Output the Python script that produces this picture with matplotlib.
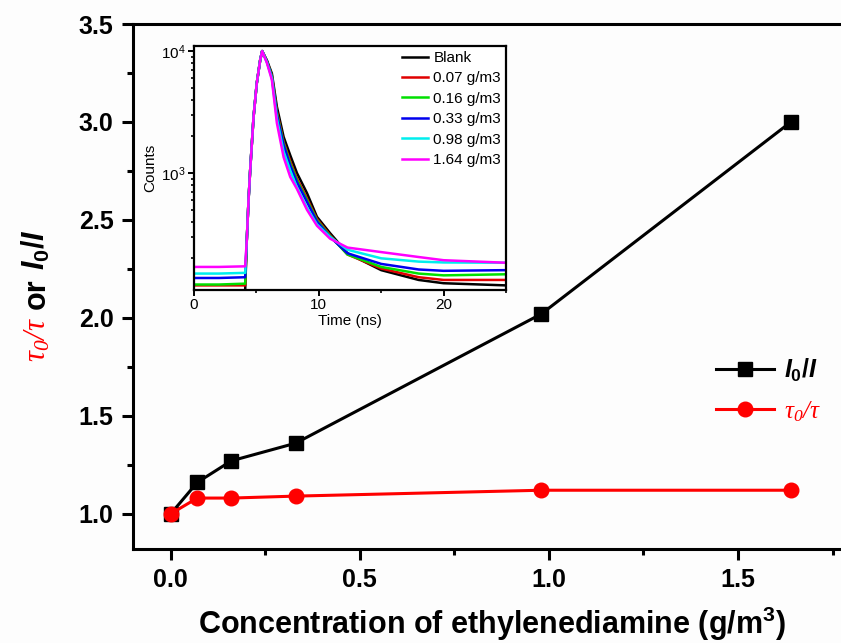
import matplotlib
matplotlib.use('Agg')
import matplotlib.pyplot as plt
from matplotlib.ticker import MultipleLocator, FixedLocator, LogLocator, NullFormatter, FormatStrFormatter

plt.rcParams['font.family'] = ['Liberation Sans', 'DejaVu Sans']
plt.rcParams['mathtext.fontset'] = 'custom'
plt.rcParams['mathtext.rm'] = 'Liberation Sans:bold'
plt.rcParams['mathtext.it'] = 'Liberation Sans:italic:bold'
plt.rcParams['mathtext.bf'] = 'Liberation Sans:bold'
plt.rcParams['mathtext.sf'] = 'Liberation Serif:italic'

# ---------------- data ----------------
conc = [0.0, 0.07, 0.16, 0.33, 0.98, 1.64]
i0_over_i = [1.00, 1.16, 1.27, 1.36, 2.02, 3.00]
tau0_over_tau = [1.00, 1.08, 1.08, 1.09, 1.12, 1.12]
main_xticks = [0.0, 0.5, 1.0, 1.5]
main_yticks = [1.0, 1.5, 2.0, 2.5, 3.0, 3.5]

time_ns = [0, 2, 4.1, 4.23, 4.37, 4.5, 4.77, 5.03, 5.3, 5.46, 5.84, 6.24, 6.64,
           7.18, 7.71, 8.25, 9.05, 9.85, 10.9, 12.3, 15, 18, 20, 25]
decay_blank = [105, 105, 108, 283, 600, 1050, 2870, 5450, 8400, 10000, 8400, 6550, 3500,
               1980, 1400, 1000, 686, 438, 322, 220, 160, 133, 125, 120]
decay_007 = [120, 120, 120, 283, 600, 1050, 2870, 5450, 8400, 10000, 8300, 6300, 3200,
             1800, 1250, 900, 620, 420, 310, 215, 165, 140, 133, 133]
decay_016 = [122, 122, 124, 283, 600, 1050, 2870, 5450, 8400, 10000, 8250, 6200, 3100,
             1750, 1200, 870, 600, 410, 305, 215, 170, 150, 145, 148]
decay_033 = [138, 138, 140, 283, 600, 1050, 2870, 5450, 8400, 10000, 8200, 6100, 3000,
             1700, 1150, 840, 580, 400, 300, 220, 180, 162, 158, 160]
decay_098 = [150, 150, 152, 283, 600, 1050, 2870, 5450, 8400, 10000, 8100, 6000, 2800,
             1500, 1050, 760, 520, 380, 300, 235, 200, 188, 185, 184]
decay_164 = [170, 170, 172, 283, 600, 1050, 2870, 5450, 8400, 10000, 8000, 5800, 2570,
             1350, 930, 740, 500, 370, 290, 245, 225, 205, 193, 184]
decay_labels = ['Blank', '0.07 g/m3', '0.16 g/m3', '0.33 g/m3', '0.98 g/m3', '1.64 g/m3']
decay_colors = ['black', '#e00000', '#00e000', '#0000ee', '#00eeee', '#ff00ff']
inset_xticks = [0, 10, 20]

W, H = 841, 643
fig = plt.figure(figsize=(W / 100, H / 100), dpi=100)
fig.patch.set_facecolor('#fdfdfd')

# ---------------- main axes ----------------
ax = fig.add_axes([133 / W, (H - 549) / H, (845 - 133) / W, (549 - 24) / H])
ax.set_facecolor('#fdfdfd')
ax.plot(conc, i0_over_i, color='black', lw=2.2, marker='s', ms=9.5, label=r'$I_0/I$', zorder=3)
ax.plot(conc, tau0_over_tau, color='red', lw=2.2, marker='o', ms=10.5,
        label=r'$\mathsf{\tau_0/\tau}$', zorder=4)
ax.set_xlim(-0.1, 1.783)
ax.set_ylim(0.82, 3.5)
ax.xaxis.set_major_locator(FixedLocator(main_xticks))
ax.yaxis.set_major_locator(FixedLocator(main_yticks))
ax.xaxis.set_minor_locator(MultipleLocator(0.25))
ax.yaxis.set_minor_locator(MultipleLocator(0.25))
ax.xaxis.set_major_formatter(FormatStrFormatter('%.1f'))
ax.yaxis.set_major_formatter(FormatStrFormatter('%.1f'))
for s in ax.spines.values():
    s.set_linewidth(2.2)
ax.tick_params(which='major', direction='out', length=8, width=2.2, labelsize=18, pad=6,
               top=False, right=False)
ax.tick_params(which='minor', direction='out', length=4.5, width=2.2, top=False, right=False)
for lab in ax.get_xticklabels() + ax.get_yticklabels():
    lab.set_fontweight('bold')
ax.set_xlabel(r'Concentration of ethylenediamine (g/m$^\mathregular{3}$)',
              fontsize=22, fontweight='bold')
ax.xaxis.set_label_coords((492 - 133) / (845 - 133), -0.107)

leg = ax.legend(loc='upper left', bbox_to_anchor=(716 / W, (H - 357) / H),
                bbox_transform=fig.transFigure, frameon=False, fontsize=18,
                handlelength=2.3, handletextpad=0.4, labelspacing=0.6,
                borderpad=0, borderaxespad=0)
leg.get_texts()[1].set_color('red')

# ---------------- inset ----------------
ax2 = fig.add_axes([194 / W, (H - 290) / H, 312 / W, 244 / H])
decays = [decay_blank, decay_007, decay_016, decay_033, decay_098, decay_164]
for d, lab, c in zip(decays, decay_labels, decay_colors):
    ax2.plot(time_ns, d, color=c, lw=1.8, label=lab)
ax2.set_yscale('log')
ax2.set_xlim(0, 25)
ax2.set_ylim(110, 11000)
ax2.xaxis.set_major_locator(FixedLocator(inset_xticks))
ax2.xaxis.set_minor_locator(MultipleLocator(5))
ax2.yaxis.set_major_locator(FixedLocator([1e3, 1e4]))
ax2.yaxis.set_minor_locator(LogLocator(base=10, subs=[2, 3, 4, 5, 6, 7, 8, 9]))
ax2.yaxis.set_minor_formatter(NullFormatter())
ax2.set_yticklabels([r'$\mathregular{10^{3}}$', r'$\mathregular{10^{4}}$'])
for s in ax2.spines.values():
    s.set_linewidth(1.6)
ax2.tick_params(which='major', direction='out', length=4, width=1.4, labelsize=11, pad=2,
                top=False, right=False)
ax2.tick_params(which='minor', direction='out', length=2.5, width=1.2, top=False, right=False)
ax2.set_xlabel('Time (ns)', fontsize=11, labelpad=1)
ax2.set_ylabel('Counts', fontsize=11, labelpad=3)
ax2.legend(loc='upper left', bbox_to_anchor=(402 / W, (H - 51) / H),
           bbox_transform=fig.transFigure, frameon=False, fontsize=11,
           handlelength=1.7, handletextpad=0.35, labelspacing=0.42,
           borderpad=0, borderaxespad=0)

# ---------------- composite y label ----------------
fig.canvas.draw()
r = fig.canvas.get_renderer()
x_base = 45 / W
y_cur = (H - 362) / H
parts = [(r'$\mathsf{\tau_0/\tau}$', 'red', {}),
         ('or', 'black', {'fontweight': 'bold'}),
         (r'$I_0/I$', 'black', {})]
for s, c, kw in parts:
    t = fig.text(x_base, y_cur, s, rotation=90, rotation_mode='anchor', ha='left',
                 va='baseline', color=c, fontsize=22, **kw)
    bb = t.get_window_extent(r)
    y_cur = bb.y1 / fig.bbox.height + 8 / H

fig.savefig('out.png', dpi=100, facecolor=fig.get_facecolor())
